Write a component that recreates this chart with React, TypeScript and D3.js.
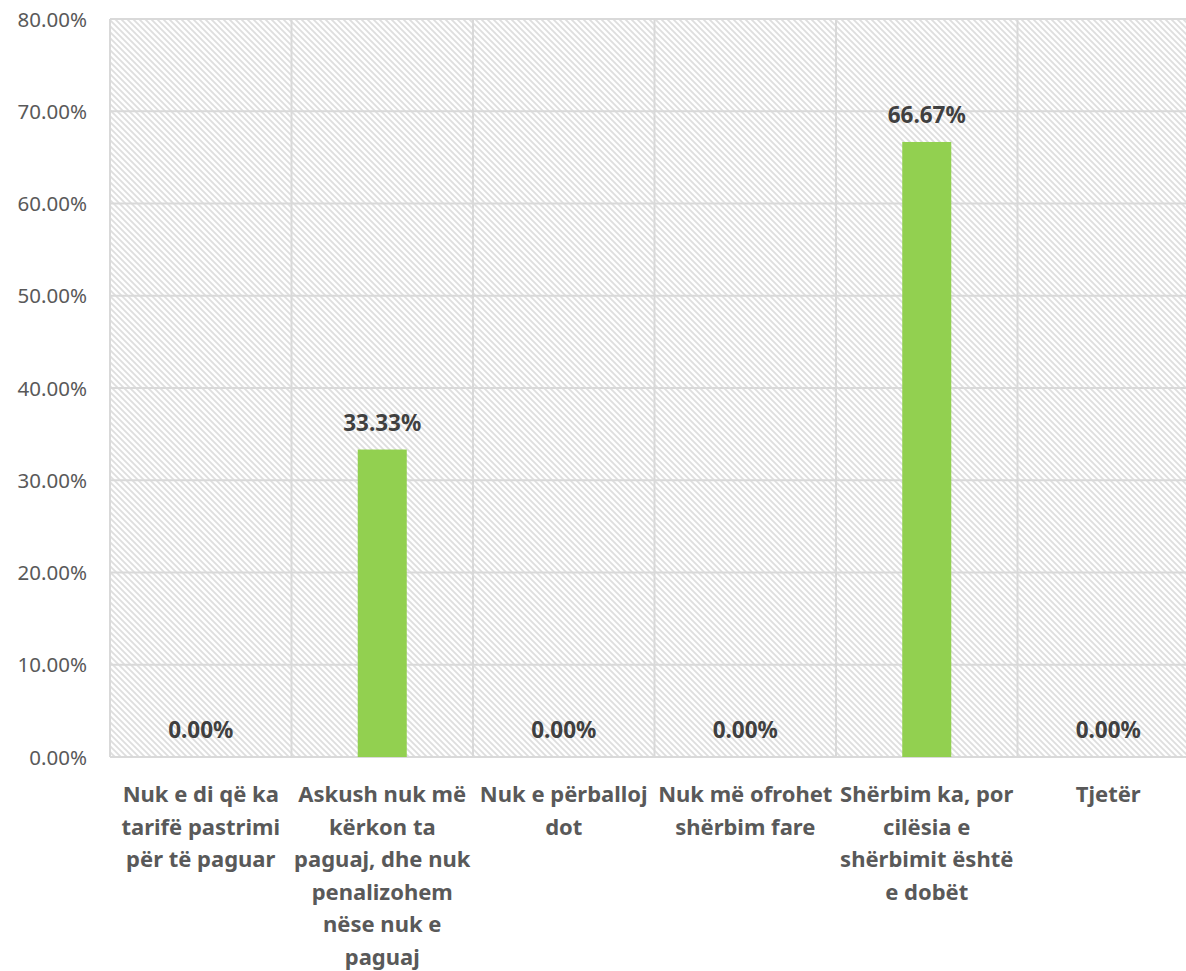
import React from "react";
import * as d3 from "d3";

const categories = [
  "Nuk e di që ka\ntarifë pastrimi\npër të paguar",
  "Askush nuk më\nkërkon ta\npaguaj, dhe nuk\npenalizohem\nnëse nuk e\npaguaj",
  "Nuk e përballoj\ndot",
  "Nuk më ofrohet\nshërbim fare",
  "Shërbim ka, por\ncilësia e\nshërbimit është\ne dobët",
  "Tjetër",
];
const values = [0, 33.33, 0, 0, 66.67, 0];
const yTicks = [0, 10, 20, 30, 40, 50, 60, 70, 80];

const W = 1186;
const H = 971;
const left = 110;
const right = 1199;
const top = 19;
const bottom = 757;

export default function App() {
  const x = d3.scaleBand<string>().domain(categories).range([left, right]).padding(0);
  const y = d3.scaleLinear().domain([0, 80]).range([bottom, top]);
  const bw = x.step() * 0.27;
  const grid = "#d9d9d9";
  const font = "'Noto Sans', sans-serif";

  return (
    <svg width={W} height={H} style={{ position: "absolute", left: 0, top: 0, background: "#fff" }}>
      <defs>
        <pattern id="hatch" width="6" height="6" patternUnits="userSpaceOnUse">
          <rect width="6" height="6" fill="#ffffff" />
          <path d="M-1,-1 L7,7 M-1,5 L1,7 M5,-1 L7,1" stroke="#dedede" strokeWidth="1.8" />
        </pattern>
      </defs>
      <rect x={left} y={top} width={right - left} height={bottom - top} fill="url(#hatch)" />
      {yTicks.map((t) => (
        <line key={"g" + t} x1={left} x2={right} y1={y(t)} y2={y(t)} stroke={grid} strokeWidth={2} />
      ))}
      {categories.map((c, i) => (
        <line key={"v" + i} x1={x(c)!} x2={x(c)!} y1={top} y2={bottom} stroke={grid} strokeWidth={2} />
      ))}
      {yTicks.map((t) => (
        <text
          key={"t" + t}
          x={87}
          y={y(t) + 7.5}
          textAnchor="end"
          fontFamily={font}
          fontSize={20.5}
          fill="#595959"
        >
          {t.toFixed(2)}%
        </text>
      ))}
      {categories.map((c, i) => {
        const cx = x(c)! + x.bandwidth() / 2;
        const v = values[i];
        return (
          <g key={"b" + i}>
            {v > 0 && (
              <rect x={cx - bw / 2} y={y(v)} width={bw} height={bottom - y(v)} fill="#92d050" />
            )}
            <text
              x={cx}
              y={y(v) - 19}
              textAnchor="middle"
              fontFamily={font}
              fontWeight="bold"
              fontSize={22.5}
              fill="#404040"
            >
              {v.toFixed(2)}%
            </text>
            <text textAnchor="middle" fontFamily={font} fontWeight="bold" fontSize={22} fill="#595959">
              {c.split("\n").map((ln, k) => (
                <tspan key={k} x={cx} y={802 + k * 32.6}>
                  {ln}
                </tspan>
              ))}
            </text>
          </g>
        );
      })}
    </svg>
  );
}
